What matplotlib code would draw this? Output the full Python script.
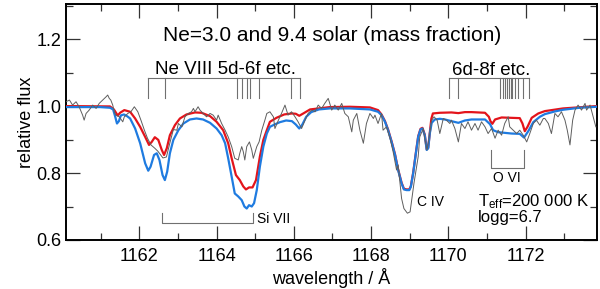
import matplotlib
matplotlib.use("Agg")
import matplotlib.pyplot as plt
from matplotlib.ticker import MultipleLocator, FormatStrFormatter

plt.rcParams['font.family'] = ['Liberation Sans', 'DejaVu Sans']
plt.rcParams['mathtext.fontset'] = 'custom'
plt.rcParams['mathtext.rm'] = 'Liberation Sans'
plt.rcParams['mathtext.it'] = 'Liberation Sans'

# ---------------- data ----------------
obs_wave = [1160.10, 1160.19, 1160.27, 1160.36, 1160.44, 1160.53, 1160.57, 1160.62, 1160.70, 1160.79,
            1160.88, 1160.96, 1161.05, 1161.14, 1161.18, 1161.22, 1161.26, 1161.31, 1161.35, 1161.39,
            1161.48, 1161.57, 1161.61, 1161.70, 1161.78, 1161.87, 1161.96, 1162.04, 1162.13, 1162.21,
            1162.30, 1162.40, 1162.48, 1162.61, 1162.70, 1162.79, 1162.88, 1162.97, 1163.01, 1163.10,
            1163.14, 1163.18, 1163.27, 1163.35, 1163.40, 1163.44, 1163.52, 1163.57, 1163.65, 1163.74,
            1163.83, 1163.91, 1164.00, 1164.04, 1164.13, 1164.22, 1164.30, 1164.39, 1164.47, 1164.56,
            1164.60, 1164.65, 1164.69, 1164.73, 1164.78, 1164.85, 1164.91, 1164.95, 1165.04, 1165.10,
            1165.17, 1165.25, 1165.30, 1165.38, 1165.47, 1165.51, 1165.60, 1165.68, 1165.77, 1165.81,
            1165.85, 1165.94, 1166.03, 1166.11, 1166.20, 1166.29, 1166.37, 1166.46, 1166.55, 1166.63,
            1166.72, 1166.80, 1166.89, 1166.93, 1166.98, 1167.06, 1167.15, 1167.24, 1167.32, 1167.41,
            1167.50, 1167.54, 1167.63, 1167.71, 1167.80, 1167.88, 1167.97, 1168.06, 1168.10, 1168.18,
            1168.27, 1168.31, 1168.40, 1168.49, 1168.57, 1168.66, 1168.70, 1168.75, 1168.79, 1168.85,
            1168.94, 1169.01, 1169.05, 1169.11, 1169.18, 1169.22, 1169.26, 1169.35, 1169.39, 1169.45,
            1169.52, 1169.57, 1169.63, 1169.71, 1169.78, 1169.87, 1169.95, 1170.04, 1170.08, 1170.17,
            1170.26, 1170.34, 1170.43, 1170.51, 1170.60, 1170.69, 1170.77, 1170.86, 1170.95, 1171.03,
            1171.12, 1171.21, 1171.29, 1171.38, 1171.46, 1171.55, 1171.59, 1171.68, 1171.77, 1171.85,
            1171.94, 1172.03, 1172.11, 1172.20, 1172.28, 1172.37, 1172.46, 1172.50, 1172.59, 1172.67,
            1172.76, 1172.84, 1172.93, 1173.02, 1173.08, 1173.15, 1173.22, 1173.28, 1173.36, 1173.45,
            1173.54, 1173.58, 1173.67, 1173.75, 1173.82]
obs_flux = [1.013, 1.018, 1.003, 1.013, 0.998, 0.973, 0.958, 0.978, 0.988, 1.003,
            0.993, 1.008, 1.018, 1.028, 1.033, 1.023, 1.018, 1.003, 0.983, 0.973,
            0.968, 0.953, 0.968, 0.978, 0.983, 0.998, 0.983, 0.958, 0.928, 0.904,
            0.884, 0.874, 0.865, 0.845, 0.848, 0.890, 0.930, 0.928, 0.948, 0.938,
            0.953, 0.968, 0.978, 0.983, 0.993, 0.983, 0.998, 0.988, 0.978, 0.968,
            0.978, 0.973, 0.958, 0.973, 0.948, 0.928, 0.908, 0.879, 0.844, 0.839,
            0.859, 0.879, 0.864, 0.839, 0.879, 0.893, 0.869, 0.844, 0.879, 0.893,
            0.928, 0.958, 0.978, 0.983, 0.968, 0.933, 0.958, 0.978, 1.003, 0.988,
            0.973, 0.983, 0.968, 0.953, 0.933, 0.958, 0.978, 0.988, 0.983, 1.003,
            0.993, 1.008, 1.023, 1.008, 0.988, 1.003, 0.988, 1.008, 0.978, 0.968,
            0.923, 0.958, 0.978, 0.928, 0.889, 0.948, 0.978, 0.963, 0.973, 0.948,
            0.978, 0.928, 0.938, 0.904, 0.864, 0.809, 0.824, 0.769, 0.724, 0.694,
            0.680, 0.684, 0.719, 0.769, 0.819, 0.849, 0.908, 0.933, 0.904, 0.869,
            0.918, 0.958, 0.968, 0.958, 0.918, 0.963, 0.958, 0.948, 0.958, 0.933,
            0.893, 0.948, 0.933, 0.953, 0.928, 0.948, 0.928, 0.953, 0.938, 0.918,
            0.933, 0.904, 0.928, 0.913, 0.948, 0.968, 0.938, 0.928, 0.918, 0.928,
            0.913, 0.893, 0.918, 0.948, 0.958, 0.943, 0.963, 0.963, 0.948, 0.918,
            0.978, 0.968, 0.983, 0.958, 0.928, 0.884, 0.958, 0.988, 1.003, 0.988,
            1.008, 0.988, 1.003, 0.968, 0.938]

# model Ne = 3.0 solar (red)
red_wave = [1160.10, 1161.24, 1161.34, 1161.44, 1161.50, 1161.61, 1161.76, 1161.89, 1162.02, 1162.15,
            1162.25, 1162.32, 1162.40, 1162.49, 1162.58, 1162.64, 1162.71, 1162.79, 1162.92, 1163.05,
            1163.22, 1163.44, 1163.61, 1163.83, 1164.00, 1164.17, 1164.30, 1164.39, 1164.50, 1164.60,
            1164.69, 1164.76, 1164.84, 1164.93, 1165.02, 1165.12, 1165.21, 1165.30, 1165.38, 1165.55,
            1165.75, 1165.95, 1166.05, 1166.14, 1166.23, 1166.42, 1166.93, 1167.45, 1167.97, 1168.18,
            1168.27, 1168.36, 1168.44, 1168.53, 1168.62, 1168.70, 1168.79, 1168.85, 1168.92, 1168.99,
            1169.03, 1169.09, 1169.16, 1169.22, 1169.28, 1169.33, 1169.39, 1169.44, 1169.48, 1169.52,
            1169.56, 1169.60, 1169.78, 1170.08, 1170.26, 1170.43, 1170.60, 1170.95, 1171.05, 1171.09,
            1171.14, 1171.21, 1171.38, 1171.85, 1171.92, 1171.98, 1172.05, 1172.16, 1172.33, 1172.50,
            1172.97, 1173.85]
red_flux = [1.000, 0.999, 0.990, 0.972, 0.980, 0.988, 0.983, 0.963, 0.938, 0.908,
            0.884, 0.893, 0.907, 0.899, 0.869, 0.854, 0.874, 0.913, 0.943, 0.963,
            0.975, 0.981, 0.980, 0.970, 0.953, 0.928, 0.889, 0.844, 0.794, 0.779,
            0.760, 0.751, 0.757, 0.757, 0.779, 0.849, 0.899, 0.928, 0.953, 0.965,
            0.975, 0.978, 0.977, 0.971, 0.977, 0.990, 0.997, 0.998, 0.996, 0.988,
            0.975, 0.955, 0.930, 0.895, 0.856, 0.811, 0.771, 0.753, 0.751, 0.751,
            0.761, 0.801, 0.861, 0.910, 0.932, 0.935, 0.915, 0.871, 0.876, 0.920,
            0.962, 0.978, 0.980, 0.981, 0.979, 0.982, 0.982, 0.980, 0.968, 0.955,
            0.947, 0.960, 0.966, 0.964, 0.948, 0.925, 0.938, 0.965, 0.978, 0.985,
            0.993, 1.000]

# model Ne = 9.4 solar (blue)
blue_wave = [1160.10, 1160.98, 1161.24, 1161.32, 1161.37, 1161.42, 1161.47, 1161.52, 1161.60, 1161.68,
             1161.76, 1161.89, 1162.02, 1162.15, 1162.23, 1162.29, 1162.38, 1162.45, 1162.52, 1162.60,
             1162.66, 1162.72, 1162.79, 1162.88, 1163.01, 1163.14, 1163.31, 1163.48, 1163.65, 1163.83,
             1164.00, 1164.13, 1164.22, 1164.30, 1164.39, 1164.47, 1164.56, 1164.65, 1164.72, 1164.78,
             1164.84, 1164.91, 1164.97, 1165.04, 1165.12, 1165.21, 1165.30, 1165.38, 1165.50, 1165.64,
             1165.80, 1165.95, 1166.05, 1166.14, 1166.22, 1166.32, 1166.45, 1166.65, 1166.93, 1167.45,
             1167.97, 1168.18, 1168.27, 1168.36, 1168.44, 1168.53, 1168.62, 1168.70, 1168.79, 1168.85,
             1168.92, 1168.99, 1169.03, 1169.09, 1169.16, 1169.22, 1169.28, 1169.33, 1169.39, 1169.44,
             1169.48, 1169.52, 1169.57, 1169.65, 1169.78, 1169.91, 1170.08, 1170.26, 1170.43, 1170.60,
             1170.95, 1171.08, 1171.16, 1171.29, 1171.64, 1171.85, 1171.96, 1172.07, 1172.20, 1172.37,
             1172.50, 1172.76, 1172.97, 1173.40, 1173.85]
blue_flux = [0.997, 0.997, 0.995, 0.990, 0.970, 0.948, 0.955, 0.972, 0.975, 0.970,
             0.963, 0.933, 0.889, 0.829, 0.807, 0.819, 0.854, 0.859, 0.839, 0.794,
             0.779, 0.804, 0.859, 0.899, 0.928, 0.948, 0.960, 0.963, 0.960, 0.950,
             0.933, 0.913, 0.889, 0.844, 0.789, 0.739, 0.730, 0.719, 0.700, 0.694,
             0.704, 0.700, 0.710, 0.749, 0.819, 0.879, 0.918, 0.938, 0.945, 0.952,
             0.957, 0.955, 0.945, 0.933, 0.945, 0.968, 0.982, 0.990, 0.993, 0.993,
             0.990, 0.983, 0.973, 0.953, 0.928, 0.893, 0.854, 0.809, 0.769, 0.751,
             0.749, 0.749, 0.759, 0.799, 0.859, 0.908, 0.930, 0.933, 0.913, 0.869,
             0.874, 0.918, 0.950, 0.960, 0.962, 0.960, 0.955, 0.950, 0.957, 0.960,
             0.960, 0.946, 0.928, 0.922, 0.918, 0.917, 0.906, 0.925, 0.952, 0.968,
             0.976, 0.984, 0.989, 0.995, 0.998]

# line identifications
ne8_a_lines = [1162.23, 1162.67, 1164.53, 1164.67, 1164.78, 1164.86, 1165.10, 1165.92, 1166.16]
ne8_b_lines = [1170.02, 1170.26, 1171.33, 1171.42, 1171.48, 1171.53, 1171.57, 1171.62, 1171.66,
               1171.73, 1171.81, 1171.94, 1172.09]
si7_lines = [1162.59, 1164.93]
o6_lines = [1171.10, 1171.97]

# ---------------- plot ----------------
fig = plt.figure(figsize=(6.0, 2.89), dpi=100)
ax = fig.add_axes([0.11, 0.1696, 0.885, 0.8166])

ax.plot(red_wave, red_flux, color='#e3141b', lw=1.6, zorder=3, solid_joinstyle='round')
ax.plot(blue_wave, blue_flux, color='#1f7be0', lw=1.6, zorder=4, solid_joinstyle='round')
ax.plot(obs_wave, obs_flux, color='#5e5e5e', lw=0.7, zorder=5)

gcol = '#707070'
ax.plot([ne8_a_lines[0], ne8_a_lines[-1]], [1.083, 1.083], color=gcol, lw=0.8)
for w in ne8_a_lines:
    ax.plot([w, w], [1.023, 1.083], color=gcol, lw=0.8)
ax.plot([ne8_b_lines[0], ne8_b_lines[-1]], [1.083, 1.083], color=gcol, lw=0.8)
for w in ne8_b_lines:
    ax.plot([w, w], [1.023, 1.083], color=gcol, lw=0.8)
ax.plot([si7_lines[0], si7_lines[0], si7_lines[1], si7_lines[1]], [0.681, 0.652, 0.652, 0.681],
        color=gcol, lw=0.8)
ax.plot([o6_lines[0], o6_lines[0], o6_lines[1], o6_lines[1]], [0.869, 0.814, 0.814, 0.869],
        color=gcol, lw=0.8)

ax.text(1166.98, 1.212, 'Ne=3.0 and 9.4 solar (mass fraction)', ha='center', va='center', fontsize=15)
ax.text(1164.23, 1.110, 'Ne VIII 5d-6f etc.', ha='center', va='center', fontsize=13.5)
ax.text(1171.10, 1.107, '6d-8f etc.', ha='center', va='center', fontsize=13.5)
ax.text(1165.04, 0.662, 'Si VII', ha='left', va='center', fontsize=10)
ax.text(1171.52, 0.784, 'O VI', ha='center', va='center', fontsize=10)
ax.text(1169.20, 0.714, 'C IV', ha='left', va='center', fontsize=10)
ax.text(1170.77, 0.714, r'T$_{\rm eff}$=200 000 K', ha='left', va='center', fontsize=12)
ax.text(1170.77, 0.668, 'logg=6.7', ha='left', va='center', fontsize=12)

ax.set_xlim(1160.1, 1173.85)
ax.set_ylim(0.6, 1.305)
ax.xaxis.set_major_locator(MultipleLocator(2))
ax.xaxis.set_minor_locator(MultipleLocator(1))
ax.yaxis.set_major_locator(MultipleLocator(0.2))
ax.yaxis.set_minor_locator(MultipleLocator(0.1))
ax.tick_params(which='both', direction='in', top=True, right=True, width=0.9, color='#333333')
ax.tick_params(which='major', length=10, labelsize=13)
ax.tick_params(which='minor', length=5)
ax.tick_params(axis='x', pad=6)
ax.yaxis.set_major_formatter(FormatStrFormatter('%.1f'))
for s in ax.spines.values():
    s.set_linewidth(1.4)

ax.set_xlabel('wavelength / Å', fontsize=13, labelpad=2)
ax.set_ylabel('relative flux', fontsize=13, labelpad=1)

fig.savefig('out.png', dpi=100)
